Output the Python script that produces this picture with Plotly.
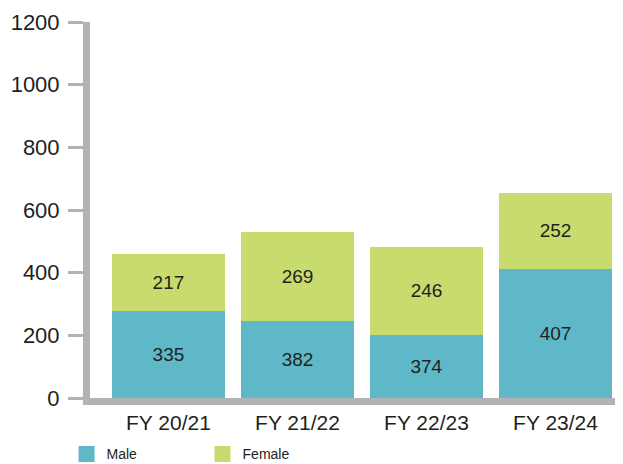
import plotly.graph_objects as go

categories = ["FY 20/21", "FY 21/22", "FY 22/23", "FY 23/24"]
male_height = [278, 246, 201, 412]
female_height = [182, 283, 282, 243]
# labels printed inside the bars
male_labels = [335, 382, 374, 407]
female_labels = [217, 269, 246, 252]
y_ticks = [0, 200, 400, 600, 800, 1000, 1200]

MALE_COLOR = "#5eb8c8"
FEMALE_COLOR = "#c8dc6e"
AXIS_COLOR = "#b3b3b3"
TEXT_COLOR = "#231f20"
FONT = "Liberation Sans, Arial, Helvetica, sans-serif"

fig = go.Figure()
fig.add_trace(go.Bar(
    x=categories, y=male_height, name="Male", marker_color=MALE_COLOR,
    marker_line_width=0, width=0.876, text=male_labels, texttemplate="%{text}",
    textposition="inside", insidetextanchor="middle",
    textfont=dict(size=19, color=TEXT_COLOR, family=FONT), showlegend=False,
    hoverinfo="skip"))
fig.add_trace(go.Bar(
    x=categories, y=female_height, name="Female", marker_color=FEMALE_COLOR,
    marker_line_width=0, width=0.876, text=female_labels, texttemplate="%{text}",
    textposition="inside", insidetextanchor="middle",
    textfont=dict(size=19, color=TEXT_COLOR, family=FONT), showlegend=False,
    hoverinfo="skip"))
# legend entries with larger square swatches
for name, color in [("Male", MALE_COLOR), ("Female", FEMALE_COLOR)]:
    fig.add_trace(go.Scatter(
        x=[None], y=[None], mode="markers", name=name,
        marker=dict(symbol="square", size=18, color=color)))

# the page adds an 8px body margin, so the figure is sized 8px smaller
fig.update_layout(
    width=615, height=456,
    barmode="stack",
    plot_bgcolor="white", paper_bgcolor="white",
    margin=dict(l=82, r=0, t=14, b=66, autoexpand=False),
    font=dict(family=FONT, color=TEXT_COLOR),
    legend=dict(orientation="h", traceorder="normal", x=-0.044, xanchor="left",
                y=-0.15, yanchor="middle",
                font=dict(size=14, color=TEXT_COLOR), entrywidth=91,
                entrywidthmode="pixels", itemwidth=30, bgcolor="rgba(0,0,0,0)"),
    xaxis=dict(range=[-0.608, 3.523], showline=True, linewidth=7, linecolor=AXIS_COLOR,
               ticks="", showgrid=False, zeroline=False, automargin=False,
               tickfont=dict(size=21, color=TEXT_COLOR, family=FONT)),
    yaxis=dict(range=[0, 1200], tickvals=y_ticks, showline=True, linewidth=7,
               linecolor=AXIS_COLOR, ticks="outside", ticklen=15, tickwidth=3,
               tickcolor=AXIS_COLOR, showgrid=False, zeroline=False, automargin=False,
               ticklabelstandoff=4,
               tickfont=dict(size=22, color=TEXT_COLOR, family=FONT)),
)

fig.write_html("out.html")
